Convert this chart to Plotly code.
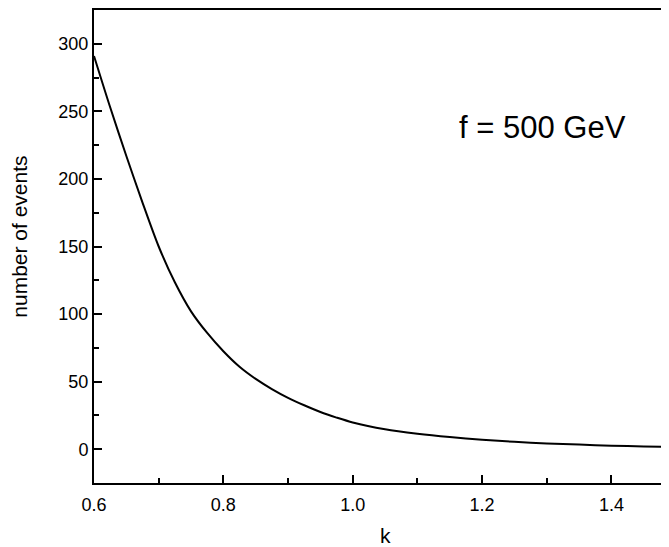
import plotly.graph_objects as go

k_values = [0.600, 0.625, 0.650, 0.675, 0.700, 0.725, 0.750, 0.775, 0.800, 0.825,
            0.850, 0.875, 0.900, 0.925, 0.950, 0.975, 1.000, 1.050, 1.100, 1.150,
            1.200, 1.250, 1.300, 1.350, 1.400, 1.450, 1.500]
events = [291, 253, 217, 182.5, 150, 123.5, 102, 86, 72.5, 61,
          52, 44.5, 38, 32.5, 27.5, 23.4, 19.8, 14.8, 11.5, 9.0,
          7.0, 5.5, 4.3, 3.4, 2.6, 2.1, 1.7]

x_ticks = [0.6, 0.8, 1.0, 1.2, 1.4]
x_ticklabels = ["0.6", "0.8", "1.0", "1.2", "1.4"]
y_ticks = [0, 50, 100, 150, 200, 250, 300]
y_ticklabels = ["0", "50", "100", "150", "200", "250", "300"]

label_text = "f = 500 GeV"
x_title = "k"
y_title = "number of events"

FONT = "Liberation Sans, Arial, sans-serif"

fig = go.Figure()
fig.add_trace(go.Scatter(
    x=k_values, y=events, mode="lines",
    line=dict(color="black", width=2, shape="spline", smoothing=0.8),
    showlegend=False, hoverinfo="skip"))

# page body has an 8px margin, so the figure is 8px smaller and shifted
fig.update_layout(
    width=661, height=539,
    margin=dict(l=86, r=0, t=2, b=64),
    paper_bgcolor="white", plot_bgcolor="white",
    font=dict(family=FONT, color="black", size=18),
    xaxis=dict(
        range=[0.6, 1.489], showgrid=False, zeroline=False,
        showline=True, linecolor="black", linewidth=2, mirror=True,
        ticks="inside", ticklen=8, tickwidth=2, tickcolor="black",
        tickvals=x_ticks, ticktext=x_ticklabels,
        tickfont=dict(size=18, family=FONT),
        ticklabelstandoff=4,
        minor=dict(ticks="inside", ticklen=5, tickwidth=2, tickcolor="black",
                   dtick=0.1, tick0=0.6, showgrid=False),
    ),
    yaxis=dict(
        range=[-25, 325], showgrid=False, zeroline=False,
        showline=True, linecolor="black", linewidth=2, mirror=False,
        ticks="inside", ticklen=8, tickwidth=2, tickcolor="black",
        tickvals=y_ticks, ticktext=y_ticklabels,
        tickfont=dict(size=18, family=FONT),
        ticklabelstandoff=0,
        minor=dict(ticks="inside", ticklen=5, tickwidth=2, tickcolor="black",
                   dtick=25, tick0=0, showgrid=False),
    ),
)

fig.add_annotation(x=1.293, y=238, xref="x", yref="y", text=label_text,
                   showarrow=False, font=dict(size=31, family=FONT),
                   xanchor="center", yanchor="middle")
fig.add_annotation(x=1.05, y=-0.112, xref="x", yref="paper", text=x_title,
                   showarrow=False, font=dict(size=21, family=FONT),
                   xanchor="center", yanchor="middle")
fig.add_annotation(x=-0.131, y=0.52, xref="paper", yref="paper", text=y_title,
                   showarrow=False, textangle=-90, font=dict(size=21, family=FONT),
                   xanchor="center", yanchor="middle")

fig.write_html("out.html")
